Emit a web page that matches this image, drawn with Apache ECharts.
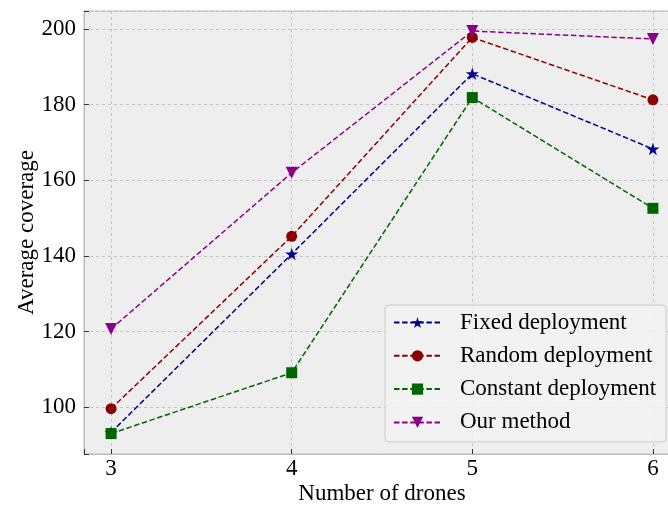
<!DOCTYPE html>
<html>
<head>
<meta charset="utf-8">
<script src="https://cdn.jsdelivr.net/npm/echarts@6/dist/echarts.min.js"></script>
<style>html,body{margin:0;padding:0;background:#fff}#c{width:668px;height:512px}</style>
</head>
<body>
<div id="c"></div>
<script>
const drones = [3, 4, 5, 6];
const fixedDeployment = [93.3, 140.5, 188.2, 168.3];
const randomDeployment = [99.6, 145.2, 197.8, 181.3];
const constantDeployment = [93.0, 109.1, 181.9, 152.6];
const ourMethod = [120.7, 162.0, 199.5, 197.4];
const seriesNames = ['Fixed deployment', 'Random deployment', 'Constant deployment', 'Our method'];

const STAR = 'path://M100,0 L122.45,69.1 L195.11,69.1 L136.33,111.8 L158.78,180.9 L100,138.2 L41.22,180.9 L63.67,111.8 L4.89,69.1 L77.55,69.1 Z';
const FONT = '"Liberation Serif", "DejaVu Serif", serif';

function mk(name, vals, color, symbol, size, rotate) {
  return {
    name: name,
    type: 'line',
    data: drones.map((d, i) => [d, vals[i]]),
    symbol: symbol,
    symbolSize: size,
    symbolRotate: rotate || 0,
    symbolKeepAspect: true,
    showAllSymbol: true,
    clip: false,
    lineStyle: { color: color, width: 1.5, type: [5.5, 2.6] },
    itemStyle: { color: color, borderWidth: 0 },
    emphasis: { disabled: true },
    animation: false
  };
}

const chart = echarts.init(document.getElementById('c'), null, { renderer: 'canvas' });
chart.setOption({
  animation: false,
  backgroundColor: '#ffffff',
  grid: {
    left: 84, top: 11, right: -12, bottom: 58,
    outerBoundsMode: 'none', containLabel: false,
    show: true, backgroundColor: '#eeeeee', borderColor: '#bcbcbc', borderWidth: 1
  },
  xAxis: {
    type: 'value', min: 2.85, max: 6.15, splitNumber: 3,
    name: 'Number of drones', nameLocation: 'middle', nameGap: 28, nameMoveOverlap: false,
    nameTextStyle: { fontFamily: FONT, fontSize: 23, color: '#000' },
    axisLine: { show: true, lineStyle: { color: '#bcbcbc', width: 1 } },
    axisTick: { show: true, inside: true, length: 5, lineStyle: { color: '#333', width: 1 } },
    axisLabel: {
      fontFamily: FONT, fontSize: 23, color: '#000', margin: 3,
      formatter: v => (Math.abs(v - Math.round(v)) < 1e-9 ? String(Math.round(v)) : '')
    },
    splitLine: { show: true, lineStyle: { color: '#b8b8b8', width: 0.8, type: [3, 3] } }
  },
  yAxis: {
    type: 'value', min: 87.6, max: 204.8, splitNumber: 5,
    name: 'Average coverage', nameLocation: 'middle', nameGap: 46, nameMoveOverlap: false,
    nameTextStyle: { fontFamily: FONT, fontSize: 23, color: '#000' },
    axisLine: { show: true, lineStyle: { color: '#bcbcbc', width: 1 } },
    axisTick: { show: true, inside: true, length: 5, lineStyle: { color: '#333', width: 1 } },
    axisLabel: {
      fontFamily: FONT, fontSize: 23, color: '#000', margin: 8,
      formatter: v => (Math.abs(v % 20) < 1e-9 ? String(v) : '')
    },
    splitLine: { show: true, lineStyle: { color: '#b8b8b8', width: 0.8, type: [3, 3] } }
  },
  legend: {
    orient: 'vertical', left: 385, top: 305,
    padding: [6, 10, 8, 8],
    itemWidth: 47, itemHeight: 14, itemGap: 10.3,
    backgroundColor: 'rgba(242,242,242,0.9)', borderColor: '#cccccc', borderWidth: 1, borderRadius: 4,
    textStyle: { fontFamily: FONT, fontSize: 23, color: '#000', padding: [0, 0, 0, 14] },
    data: seriesNames
  },
  series: [
    mk(seriesNames[0], fixedDeployment, '#00008b', STAR, 13),
    mk(seriesNames[1], randomDeployment, '#8b0000', 'circle', 11),
    mk(seriesNames[2], constantDeployment, '#006400', 'rect', 11),
    mk(seriesNames[3], ourMethod, '#8b008b', 'triangle', 12, 180)
  ]
});
</script>
</body>
</html>
